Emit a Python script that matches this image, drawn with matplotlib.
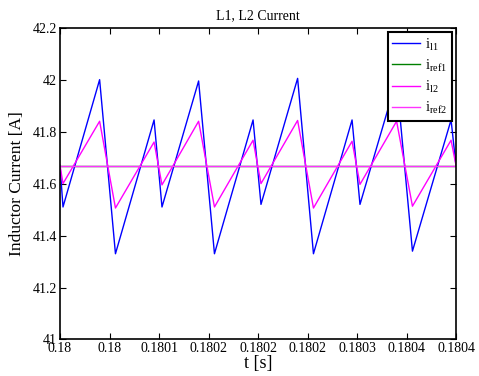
import numpy as np
import matplotlib
matplotlib.use('Agg')
import matplotlib.pyplot as plt

plt.rcParams['font.family'] = ['Liberation Serif', 'DejaVu Serif']
plt.rcParams['mathtext.fontset'] = 'custom'
plt.rcParams['mathtext.rm'] = 'Liberation Serif'

# vertex times in microseconds after t = 0.18 s
t_us = [0, 3, 40, 56, 95, 103, 140, 156, 195, 203, 240, 256, 295, 303, 340, 356, 395, 400]
# inductor 1 current
i_l1 = [41.67, 41.51, 42.0, 41.33, 41.845, 41.51, 41.995, 41.33, 41.845, 41.52,
        42.005, 41.33, 41.845, 41.52, 42.0, 41.34, 41.845, 41.67]
# inductor 2 current
i_l2 = [41.67, 41.60, 41.84, 41.506, 41.76, 41.595, 41.84, 41.51, 41.767, 41.60,
        41.843, 41.506, 41.763, 41.597, 41.84, 41.513, 41.767, 41.67]
i_ref1 = 41.667
i_ref2 = 41.667

xticks = [0.18, 0.18005, 0.1801, 0.18015, 0.1802, 0.18025, 0.1803, 0.18035, 0.1804]
xticklabels = ['0.18', '0.18', '0.1801', '0.1802', '0.1802', '0.1802', '0.1803', '0.1804', '0.1804']
yticks = [41, 41.2, 41.4, 41.6, 41.8, 42, 42.2]
yticklabels = ['41', '41.2', '41.4', '41.6', '41.8', '42', '42.2']

t = 0.18 + np.array(t_us) * 1e-6

fig = plt.figure(figsize=(4.79, 3.76), dpi=100)
ax = fig.add_axes([0.1253, 0.0971, 0.8267, 0.8292])

ax.plot(t, i_l1, color='#0000ff', lw=1, label=r'$\mathrm{i}_{\mathrm{l1}}$')
ax.plot([t[0], t[-1]], [i_ref1, i_ref1], color='#008000', lw=1, label=r'$\mathrm{i}_{\mathrm{ref1}}$')
ax.plot(t, i_l2, color='#ff00ff', lw=1, label=r'$\mathrm{i}_{\mathrm{l2}}$')
ax.plot([t[0], t[-1]], [i_ref2, i_ref2], color='#ff33ff', lw=1, label=r'$\mathrm{i}_{\mathrm{ref2}}$')

ax.set_xlim(0.18, 0.1804)
ax.set_ylim(41, 42.2)
ax.set_xticks(xticks)
ax.set_xticklabels(xticklabels)
ax.set_yticks(yticks)
ax.set_yticklabels(yticklabels)
ax.tick_params(direction='in', top=True, right=True, labelsize=10, length=4, pad=2)
for s in ax.spines.values():
    s.set_linewidth(1.2)

ax.set_title('L1, L2 Current', fontsize=10, pad=6)
ax.set_xlabel('t [s]', fontsize=13, labelpad=0)
ax.set_ylabel('Inductor Current [A]', fontsize=12.5, labelpad=6)

leg = ax.legend(loc='upper right', fontsize=10.5, fancybox=False, framealpha=1,
                borderaxespad=0.3, handlelength=1.9, labelspacing=0.3,
                handletextpad=0.35, borderpad=0.3)
leg.get_frame().set_edgecolor('black')
leg.get_frame().set_linewidth(1.5)

plt.savefig('out.png', dpi=100)
